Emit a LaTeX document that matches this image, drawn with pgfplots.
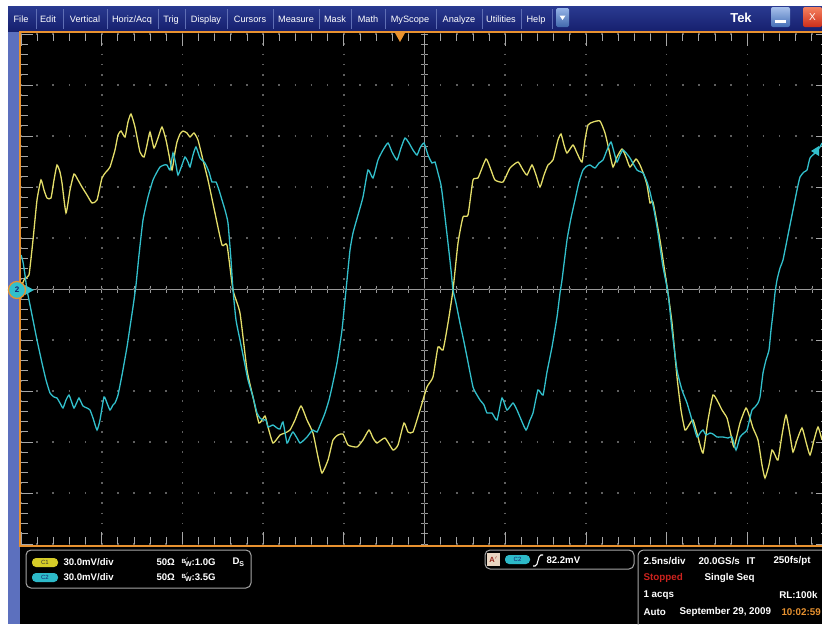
\documentclass[border=0pt]{standalone}
\usepackage{pgfplots}
\pgfplotsset{compat=1.18}
\usepackage{fontspec}
\setmainfont{Liberation Sans}
\definecolor{navy}{RGB}{22,32,110}
\definecolor{navytop}{RGB}{42,58,145}
\definecolor{peri}{RGB}{92,112,190}
\definecolor{orng}{RGB}{232,146,48}
\definecolor{ytrace}{RGB}{228,222,105}
\definecolor{ctrace}{RGB}{50,192,204}
\definecolor{gridc}{RGB}{95,95,95}
\definecolor{sepc}{RGB}{95,110,180}
\definecolor{pillY}{RGB}{214,204,40}
\definecolor{pillC}{RGB}{45,185,200}
\definecolor{btnblue}{RGB}{80,130,215}
\definecolor{closetop}{RGB}{245,130,95}
\definecolor{closebot}{RGB}{205,45,25}
\definecolor{badge}{RGB}{235,215,195}
\definecolor{badgetext}{RGB}{150,40,30}
\definecolor{stopred}{RGB}{205,35,30}
\begin{document}
\begin{tikzpicture}
\useasboundingbox (0,0) rectangle (822pt,-624pt);
\begin{scope}[x=1pt,y=-1pt]
\fill[white] (0,0) rectangle (822,624);
\fill[black] (20,31) rectangle (822,624);
\fill[peri] (8,31) rectangle (20,624);
\shade[top color=navytop,bottom color=navy] (8,6) rectangle (822,31);
\foreach \s in {36,63,107,158,185,227,273,319,351,385,436,482,521,552}
  \draw[sepc, line width=0.8pt] (\s,9) -- (\s,29);
\begin{scope}[every node/.style={white, anchor=base, font=\fontsize{9.2}{10}\selectfont}]
\node at (21,22.5) {File};
\node at (48,22.5) {Edit};
\node at (85,22.5) {Vertical};
\node at (132,22.5) {Horiz/Acq};
\node at (171,22.5) {Trig};
\node at (206,22.5) {Display};
\node at (250,22.5) {Cursors};
\node at (296,22.5) {Measure};
\node at (335,22.5) {Mask};
\node at (368,22.5) {Math};
\node at (410,22.5) {MyScope};
\node at (459,22.5) {Analyze};
\node at (501,22.5) {Utilities};
\node at (536,22.5) {Help};
\end{scope}
\shade[top color=btnblue!60!white,bottom color=btnblue!80!black, rounded corners=1.5pt] (556,8) rectangle (569,27);
\fill[white] (559.5,15.5) -- (565.5,15.5) -- (562.5,20) -- cycle;
\node[white, anchor=base, font=\bfseries\fontsize{13}{13}\selectfont] at (741,22.5) {Tek};
\shade[top color=btnblue!50!white,bottom color=btnblue!85!black, rounded corners=2pt] (771,7) rectangle (790,27);
\fill[white] (775,20) rectangle (786,23);
\shade[top color=closetop,bottom color=closebot, rounded corners=2pt] (803,7) rectangle (822,27);
\node[white, font=\fontsize{10}{10}\selectfont] at (812.5,17.5) {X};
% centre lines and their ticks
\draw[gray!80, line width=0.9pt] (21,289) -- (828,289);
\draw[gray!80, line width=0.9pt] (424.5,34) -- (424.5,544);
\foreach \i in {0,...,50} \draw[gray!80, line width=0.7pt] ({21+\i*16.14},285.5) -- ++(0,7);
\foreach \i in {0,...,50} \draw[gray!80, line width=0.7pt] (421,{34+\i*10.2}) -- ++(7,0);
\end{scope}

\begin{axis}[
  at={(21pt,-544pt)}, anchor=south west,
  scale only axis, width=807pt, height=510pt,
  xmin=21, xmax=828, ymin=34, ymax=544, y dir=reverse,
  axis line style={draw=none},
  xtick={21,101.7,182.4,263.1,343.8,424.5,505.2,585.9,666.6,747.3,828},
  ytick={34,85,136,187,238,289,340,391,442,493,544},
  minor x tick num=4, minor y tick num=4,
  xticklabels={}, yticklabels={},
  tick align=inside,
  major tick length=12pt, minor tick length=7pt,
  tick style={draw=gray!70, line width=0.8pt},
  grid=major,
  x grid style={draw=gridc, line width=1.6pt, dash pattern=on 1.6pt off 8.6pt, dash phase=0.8pt},
  y grid style={draw=gridc, line width=1.6pt, dash pattern=on 1.6pt off 14.54pt, dash phase=0.8pt},
  clip=true,
]
\addplot[ytrace, line width=1.3pt, smooth, tension=0.3] coordinates {
(21,287)(25,278)(29,275)(33,240)(37,200)(41,180)(44,190)(47,198)(51,198)(54,180)
(57,165)(60,172)(62,183)(66,213)(70,190)(74,174)(78,180)(82,187)(87,195)(92,203)
(97,200)(102,178)(106,172)(110,167)(115,150)(118,135)(121,131)(125,137)(128,122)(131,114)
(135,127)(140,152)(144,157)(147,145)(150,132)(154,148)(158,138)(162,127)(166,140)(169,155)
(172,170)(175,152)(177,142)(180,134)(183,131)(187,133)(190,137)(194,133)(198,140)(203,160)
(208,180)(215,213)(222,245)(227,245)(233,290)(240,313)(247,370)(253,397)(259,423)(265,416)
(268,427)(273,443)(280,435)(285,433)(290,430)(295,420)(301,406)(307,420)(313,433)(318,457)
(322,473)(328,460)(333,440)(338,435)(343,434)(348,445)(357,447)(363,440)(369,430)(373,438)
(377,443)(385,438)(393,450)(398,445)(404,423)(408,432)(413,432)(420,410)(427,387)(433,377)
(438,347)(443,350)(448,323)(453,290)(458,243)(463,217)(468,215)(473,180)(478,178)(486,159)
(491,170)(495,180)(503,182)(510,168)(518,162)(523,170)(527,175)(532,165)(536,175)(540,187)
(544,175)(548,165)(553,160)(558,140)(561,134)(564,145)(567,153)(573,145)(577,153)(582,162)
(585,140)(588,125)(593,122)(600,121)(605,133)(609,150)(613,167)(617,157)(622,149)(626,157)
(630,167)(636,159)(640,165)(644,175)(647,185)(650,203)(653,202)(660,240)(665,273)(668,293)
(672,323)(677,377)(681,410)(685,430)(689,425)(693,420)(698,437)(703,453)(708,420)(713,395)
(718,402)(722,410)(727,418)(731,435)(734,447)(740,423)(746,408)(750,418)(753,428)(758,440)
(762,465)(765,478)(769,465)(772,450)(775,455)(778,460)(782,435)(786,415)(790,435)(793,452)
(797,440)(802,428)(806,442)(810,455)(814,440)(818,427)(822,440)
};
\addplot[ctrace, line width=1.3pt, smooth, tension=0.3] coordinates {
(21,255)(23,262)(25,275)(27,290)(30,305)(33,320)(37,340)(42,363)(46,380)(50,393)
(54,397)(57,398)(60,403)(63,408)(66,400)(69,395)(72,403)(74,408)(77,402)(79,398)
(83,406)(87,408)(90,410)(93,418)(97,430)(100,420)(104,397)(107,403)(110,410)(113,405)
(115,403)(118,395)(122,375)(127,347)(130,327)(133,307)(136,285)(139,255)(143,220)(148,197)
(153,180)(157,172)(160,167)(164,165)(167,165)(170,170)(173,153)(176,165)(178,175)(182,165)
(185,157)(188,162)(190,167)(193,155)(196,147)(200,158)(205,163)(209,172)(212,182)(216,182)
(219,190)(222,200)(225,210)(228,223)(231,260)(233,290)(236,320)(240,340)(244,360)(248,380)
(253,397)(257,413)(260,418)(263,420)(266,420)(268,427)(273,425)(277,428)(280,429)(283,422)
(287,443)(290,437)(293,432)(297,438)(300,443)(304,440)(307,437)(310,433)(313,430)(317,432)
(321,423)(325,413)(329,400)(332,387)(337,363)(342,330)(345,300)(347,280)(350,250)(353,233)
(358,215)(363,197)(368,170)(373,178)(378,160)(383,150)(388,143)(392,152)(397,160)(401,148)
(405,138)(409,143)(413,150)(417,155)(420,148)(424,143)(428,155)(432,163)(435,162)(438,173)
(441,185)(443,200)(448,243)(451,270)(453,290)(456,303)(460,323)(464,342)(467,357)(473,387)
(477,395)(480,400)(484,405)(487,413)(492,413)(497,420)(502,398)(507,410)(513,403)(517,410)
(520,417)(526,430)(530,420)(533,413)(538,390)(543,395)(547,372)(552,347)(557,317)(560,293)
(562,280)(567,240)(571,218)(575,200)(579,182)(583,170)(587,166)(590,165)(595,168)(599,163)
(603,160)(607,150)(611,142)(614,152)(617,162)(620,155)(623,150)(627,154)(630,158)(637,170)
(643,173)(647,182)(650,192)(654,210)(657,227)(660,247)(663,267)(668,293)(672,330)(677,370)
(682,390)(687,403)(692,420)(697,437)(700,433)(703,430)(706,435)(710,433)(713,434)(717,437)
(723,437)(728,438)(732,437)(736,450)(740,437)(744,433)(747,430)(750,418)(752,410)(755,407)
(758,403)(760,397)(763,373)(766,360)(769,350)(771,330)(773,313)(775,293)(777,280)(780,268)
(783,260)(788,235)(793,210)(797,190)(800,177)(804,172)(807,170)(810,158)(815,153)(820,147)
(822,143)
};
\end{axis}

\begin{scope}[x=1pt,y=-1pt]
\draw[orng, line width=2pt] (20,32) rectangle (832,545.5);
\fill[orng] (395,33) -- (405,33) -- (400,42) -- cycle;
% ground marker
\fill[ctrace] (25,285) -- (34,290) -- (25,295) -- cycle;
\draw[orng, fill=ctrace, line width=1.3pt] (17,290) circle (8.5);
\node[text=navy, font=\bfseries\fontsize{8}{8}\selectfont] at (17,290) {2};
% off-screen indicator
\fill[ctrace] (811,151) -- (819,146) -- (819,156) -- cycle;
% lower panel
\draw[gray!70, line width=1pt, rounded corners=5pt] (26,550) rectangle (251,588);
\fill[pillY, rounded corners=4pt] (32,558) rectangle (58,567);
\node[text=black!80, font=\fontsize{6}{6}\selectfont] at (45,562.5) {C1};
\fill[pillC, rounded corners=4pt] (32,573) rectangle (58,582);
\node[text=navy, font=\fontsize{6}{6}\selectfont] at (45,577.5) {C2};
\begin{scope}[every node/.style={white, anchor=west, font=\bfseries\fontsize{9.6}{10}\selectfont}]
\node at (60,562.5) {30.0mV/div};
\node at (60,577.5) {30.0mV/div};
\node at (153,562.5) {50Ω};
\node at (153,577.5) {50Ω};
\node at (178,562.5) {\raisebox{2.5pt}{\fontsize{6}{6}\selectfont B$'$}\kern-3.5pt\raisebox{-1pt}{\fontsize{7}{7}\selectfont W}:1.0G};
\node at (178,577.5) {\raisebox{2.5pt}{\fontsize{6}{6}\selectfont B$'$}\kern-3.5pt\raisebox{-1pt}{\fontsize{7}{7}\selectfont W}:3.5G};
\node at (229,562.5) {D\raisebox{-2pt}{\fontsize{7}{7}\selectfont S}};
\end{scope}
\draw[gray!70, line width=1pt, rounded corners=5pt] (485,550) rectangle (634,569);
\fill[badge] (487,553) rectangle (500,566);
\node[text=badgetext, font=\bfseries\fontsize{7.5}{8}\selectfont] at (493.5,559.5) {A$'$};
\fill[pillC, rounded corners=4pt] (505,555) rectangle (530,564);
\node[text=navy, font=\fontsize{6}{6}\selectfont] at (517.5,559.5) {C2};
\draw[white, line width=1.1pt] (533,566) -- (535,566) .. controls (538.5,566) and (537.5,555) .. (541,555) -- (543,555);
\node[white, anchor=west, font=\bfseries\fontsize{9.6}{10}\selectfont] at (543,560) {82.2mV};
\draw[gray!70, line width=1pt, rounded corners=6pt] (638,550) rectangle (845,640);
\begin{scope}[every node/.style={white, anchor=west, font=\bfseries\fontsize{9.8}{10}\selectfont}]
\node at (640,561) {2.5ns/div};
\node at (695,561) {20.0GS/s};
\node at (743,561) {IT};
\node at (770,561) {250fs/pt};
\node[text=stopred] at (640,578) {Stopped};
\node at (701,578) {Single Seq};
\node at (640,595) {1 acqs};
\node[anchor=east] at (821,595) {RL:100k};
\node at (640,612) {Auto};
\node at (676,612) {September 29, 2009};
\node[text=orng] at (778,612) {10:02:59};
\end{scope}
\end{scope}
\end{tikzpicture}
\end{document}
